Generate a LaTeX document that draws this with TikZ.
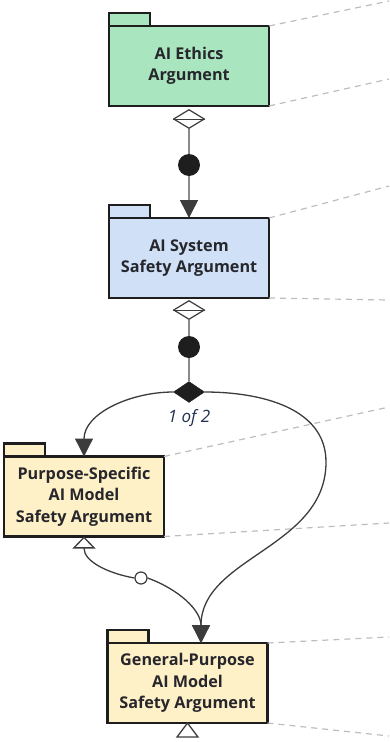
\documentclass[tikz,border=0pt]{standalone}
\usepackage{fontspec}
\setmainfont{Open Sans}
\usetikzlibrary{shapes.geometric, arrows.meta}

\definecolor{ethicsgreen}{HTML}{A9E5BE}
\definecolor{systemblue}{HTML}{CFE0F7}
\definecolor{modelyellow}{HTML}{FFF1C7}
\definecolor{pkgline}{HTML}{1E1E1E}
\definecolor{pkgtext}{HTML}{26262C}
\definecolor{linkgray}{HTML}{8A8A8A}
\definecolor{curvedark}{HTML}{3C3C3C}
\definecolor{leadergray}{HTML}{BDBDBD}
\definecolor{labelnavy}{HTML}{22304F}

\tikzset{
  pkg/.style={draw=pkgline, line width=2.4pt, minimum width=160pt, minimum height=80pt,
    outer sep=0pt, inner sep=0pt, align=center, text=pkgtext,
    font=\bfseries\fontsize{16.2}{21.5}\selectfont},
  pkgtab/.style={draw=pkgline, line width=2.4pt},
  hollowdia/.style={diamond, draw=curvedark, fill=white, line width=1.2pt, inner sep=0pt,
    minimum width=31pt, minimum height=19pt},
  soliddia/.style={diamond, draw=pkgline, fill=pkgline, inner sep=0pt,
    minimum width=31pt, minimum height=21pt},
  dot/.style={circle, fill=pkgline, inner sep=0pt, minimum size=22pt},
  ring/.style={circle, draw=curvedark, fill=white, line width=1.2pt, inner sep=0pt, minimum size=12pt},
  link/.style={draw=linkgray, line width=1.6pt},
  curve/.style={draw=curvedark, line width=1.3pt},
  leader/.style={draw=leadergray, line width=1.2pt, dash pattern=on 6pt off 5pt},
  headtip/.tip={Triangle[width=18pt, length=18pt, color=curvedark]},
  opentip/.tip={Triangle[open, width=23pt, length=12pt, fill=white, color=curvedark]}
}

\begin{document}
\begin{tikzpicture}[x=1pt,y=-1pt]
\useasboundingbox (0,0) rectangle (389,742);

% packages
\node(ethics)[pkg,fill=ethicsgreen] at (189,66) {AI Ethics\\Argument};
\node(system)[pkg,fill=systemblue] at (189,258) {AI System\\Safety Argument};
\node(purpose)[pkg,fill=modelyellow] at (84,496.5) {Purpose-Specific\\AI Model\\Safety Argument};
\node(general)[pkg,fill=modelyellow] at (187.5,683) {General-Purpose\\AI Model\\Safety Argument};

\foreach \n/\c in {ethics/ethicsgreen, system/systemblue, purpose/modelyellow, general/modelyellow}
  \draw[pkgtab,fill=\c] (\n.north west) rectangle ++(41,-13);

% leader lines
\draw[leader] (ethics.north east) -- (389,1);
\draw[leader] (ethics.south east) -- (389,79);
\draw[leader] (system.north east) -- (389,186);
\draw[leader] (system.south east) -- (389,300);
\draw[leader] (purpose.north east) -- (389,407);
\draw[leader] (purpose.south east) -- (389,523);
\draw[leader] (general.north east) -- (389,637);
\draw[leader] (general.south east) -- (389,736);

% ethics -> system
\node(agg1)[hollowdia] at (189,119) {};
\draw[curvedark,line width=0.8pt] (agg1.west) -- (agg1.east);
\node(dot1)[dot] at (189,165) {};
\draw[link] (agg1) -- (dot1);
\draw[link,-headtip] (dot1) -- (system);

% system -> choice
\node(agg2)[hollowdia] at (189,310) {};
\draw[curvedark,line width=0.8pt] (agg2.west) -- (agg2.east);
\node(dot2)[dot] at (189,347) {};
\node(choice)[soliddia] at (189,392) {};
\node(choicelabel)[font=\itshape\fontsize{17}{20}\selectfont, text=labelnavy] at (189,418) {1 of 2};
\draw[link] (agg2) -- (dot2);
\draw[link] (dot2) -- (choice);

% choice -> models
\coordinate (rbend) at (326,462);
\coordinate (gtip) at ([xshift=13.5pt]general.north);
\draw[curve,-headtip] (choice.west) to[out=180,in=90] (purpose.north);
\draw[curve,-headtip] (choice.east) to[out=0,in=90] (rbend) to[out=-90,in=90] (gtip);

% purpose -> general
\node(link3)[ring] at (141,578) {};
\draw[curve,opentip-] (purpose.south) to[out=-90,in=170] (link3.west);
\draw[curve,-headtip] (link3.east) to[out=-20,in=90] (gtip);

\draw[curve,fill=white] (general.south) -- ++(-10.5,14) -- ++(21,0) -- cycle;

\end{tikzpicture}
\end{document}
